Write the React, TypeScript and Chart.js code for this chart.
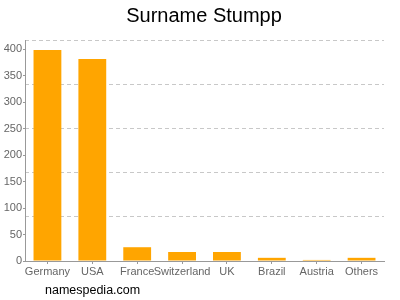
import React, { useEffect, useRef } from "react";
import { Chart, registerables } from "chart.js";

Chart.register(...registerables);

const categories = ["Germany", "USA", "France", "Switzerland", "UK", "Brazil", "Austria", "Others"];
const counts = [398, 381, 26, 17, 17, 6, 2, 6];
const yTickValues = [0, 50, 100, 150, 200, 250, 300, 350, 400];
const yMax = 417;
const gridValues = [83.4, 166.8, 250.2, 333.6, 417];
const titleText = "Surname Stumpp";
const footerText = "namespedia.com";

const FONT = "'Liberation Sans', Arial, sans-serif";

const textPlugin = {
  id: "texts",
  afterDraw(chart: any) {
    const ctx = chart.ctx;
    ctx.save();
    ctx.fillStyle = "#000";
    ctx.textBaseline = "middle";
    ctx.textAlign = "center";
    ctx.font = `20px ${FONT}`;
    ctx.fillText(titleText, 204, 16);
    ctx.textAlign = "left";
    ctx.font = `12.5px ${FONT}`;
    ctx.fillText(footerText, 45, 291);
    ctx.restore();
  },
};

export default function App() {
  const ref = useRef<HTMLCanvasElement>(null);
  useEffect(() => {
    const chart = new Chart(ref.current!, {
      type: "bar",
      data: {
        labels: categories,
        datasets: [
          {
            data: counts,
            backgroundColor: "#FFA500",
            borderWidth: 0,
            categoryPercentage: 0.62,
            barPercentage: 1,
          },
        ],
      },
      plugins: [textPlugin],
      options: {
        animation: false,
        responsive: false,
        maintainAspectRatio: false,
        layout: { padding: { top: 40, left: 0, right: 16, bottom: 0 } },
        plugins: {
          legend: { display: false },
          title: { display: false },
          tooltip: { enabled: false },
        },
        scales: {
          x: {
            offset: true,
            grid: {
              offset: false,
              drawOnChartArea: false,
              drawTicks: true,
              tickLength: 3,
              color: "#999",
            },
            border: { display: true, color: "#999" },
            ticks: {
              color: "#666",
              font: { family: FONT, size: 11 },
              padding: 1,
              autoSkip: false,
              maxRotation: 0,
            },
            afterFit(axis: any) {
              axis.height = 39;
            },
          },
          y: {
            position: "left",
            min: 0,
            max: yMax,
            afterBuildTicks(axis: any) {
              axis.ticks = yTickValues.map((v) => ({ value: v }));
            },
            grid: { drawOnChartArea: false, drawTicks: true, tickLength: 2, color: "#999" },
            border: { display: true, color: "#999" },
            ticks: {
              color: "#666",
              font: { family: FONT, size: 11 },
              padding: 1,
            },
            afterFit(axis: any) {
              axis.width = 25;
            },
          },
          y2: {
            position: "right",
            min: 0,
            max: yMax,
            afterBuildTicks(axis: any) {
              axis.ticks = gridValues.map((v) => ({ value: v }));
            },
            grid: { drawOnChartArea: true, drawTicks: false, color: "#c8c8c8", lineWidth: 1 },
            border: { display: false, dash: [4, 3] },
            ticks: { display: false },
            afterFit(axis: any) {
              axis.width = 0;
            },
          },
        },
      },
    } as any);
    return () => chart.destroy();
  }, []);
  return (
    <div style={{ position: "fixed", left: 0, top: 0, width: 400, height: 300, background: "#fff" }}>
      <canvas ref={ref} width={400} height={300} style={{ width: 400, height: 300 }} />
    </div>
  );
}
